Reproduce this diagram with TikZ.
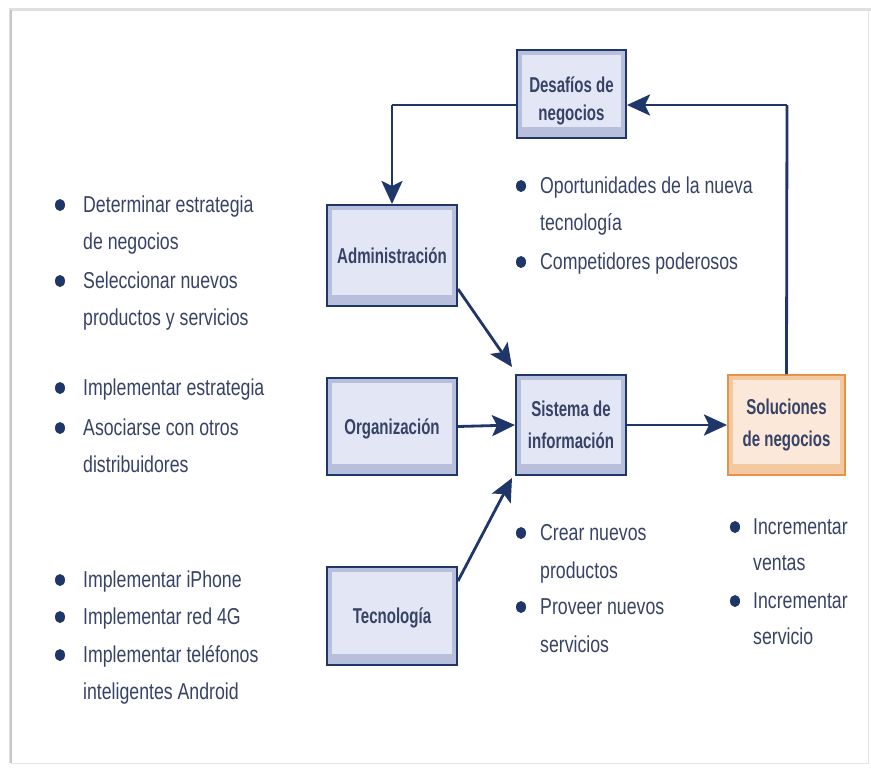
\documentclass[tikz,border=0pt]{standalone}
\usepackage{fontspec}
\usetikzlibrary{arrows.meta,calc}
\newfontfamily\listfont[FakeStretch=0.77]{Liberation Sans}
\newfontfamily\boxfont[FakeStretch=0.70]{Liberation Sans}
\definecolor{navy}{HTML}{1F3668}
\definecolor{txt}{HTML}{374366}
\definecolor{boxout}{HTML}{B8BFDD}
\definecolor{boxin}{HTML}{E3E6F5}
\definecolor{solout}{HTML}{F5C9A0}
\definecolor{solin}{HTML}{FBE8D8}
\definecolor{solline}{HTML}{E89148}
% lower a label without changing the size the node sees
\newcommand\lowerlabel[2]{\raisebox{-#1}[\height][\depth]{#2}}
\tikzset{
  x=1pt, y=-1pt,
  blockbox/.style={draw=navy, line width=2pt, fill=boxout, inner sep=0pt,
    align=center, text=txt, font=\boxfont\bfseries\fontsize{21.5}{32}\selectfont,
    path picture={\fill[boxin]
      ([shift={(5pt,-5pt)}]path picture bounding box.north west) rectangle
      ([shift={(-5pt,11pt)}]path picture bounding box.south east);}},
  solbox/.style={blockbox, draw=solline, fill=solout,
    path picture={\fill[solin]
      ([shift={(5pt,-5pt)}]path picture bounding box.north west) rectangle
      ([shift={(-5pt,11pt)}]path picture bounding box.south east);}},
  item/.style={anchor=mid west, inner sep=0pt, text=txt, yshift=-5pt,
    font=\listfont\fontsize{23}{30}\selectfont},
  dot/.style={fill=navy},
  arr/.style={draw=navy, line width=2.8pt,
    -{Stealth[length=23pt,width=21pt,inset=5pt]}},
  link/.style={draw=navy, line width=2.8pt}
}
\begin{document}
\begin{tikzpicture}
\useasboundingbox (0,0) rectangle (871,771);
% panel frame with soft shadow
\fill[white] (0,0) rectangle (871,771);
\draw[black!12, line width=3pt] (10,763) -- (10,9) -- (871,9);
\draw[black!22, line width=1.2pt] (11,763) -- (11,10);
\draw[black!10, line width=1pt] (11,763) -- (868,763) -- (868,10);

% blocks
\node[blockbox, minimum width=109pt, minimum height=88pt] (desafios) at (571.5,94)
  {\lowerlabel{7pt}{\renewcommand\arraystretch{0.88}%
   \begin{tabular}{@{}c@{}}Desafíos de\\negocios\end{tabular}}};
\node[blockbox, minimum width=130pt, minimum height=101pt] (admin) at (392,255.5) {Administración};
\node[blockbox, minimum width=130pt, minimum height=97pt] (org) at (392,426.5) {\lowerlabel{2pt}{Organización}};
\node[blockbox, minimum width=130pt, minimum height=98pt] (tec) at (392,616) {\lowerlabel{2pt}{Tecnología}};
\node[blockbox, minimum width=110pt, minimum height=100pt] (sis) at (571,425) {Sistema de\\información};
\node[solbox, minimum width=117pt, minimum height=100pt] (sol) at (786.5,425) {Soluciones\\de negocios};

% feedback loop
\coordinate (tr) at (787,105);
\coordinate (tl) at (392,105);
\draw[link] (sol.north) -- (tr);
\draw[arr] (tr) -- (desafios.east |- tr);
\draw[link] (desafios.west |- tl) -- (tl);
\draw[arr] (tl) -- (admin.north);

% inputs to the information system
\draw[arr] ([yshift=18pt]admin.south east) -- ([shift={(-3pt,7pt)}]sis.north west);
\draw[arr] (org.east) -- (sis.west);
\draw[arr] ([yshift=-15pt]tec.north east) -- ([shift={(-3pt,-2pt)}]sis.south west);
\draw[arr] (sis.east) -- (sol.west);

% management items
\fill[dot] (60,205) ellipse (5 and 6);
\node[item] (a1) at (83,205) {Determinar estrategia};
\node[item] (a2) at (83,242) {de negocios};
\fill[dot] (60,281) ellipse (5 and 6);
\node[item] (a3) at (83,281) {Seleccionar nuevos};
\node[item] (a4) at (83,318) {productos y servicios};

% organization items
\fill[dot] (60,388) ellipse (5 and 6);
\node[item] (o1) at (83,388) {Implementar estrategia};
\fill[dot] (60,428) ellipse (5 and 6);
\node[item] (o2) at (83,428) {Asociarse con otros};
\node[item] (o3) at (83,465) {distribuidores};

% technology items
\fill[dot] (60,580) ellipse (5 and 6);
\node[item] (t1) at (83,580) {Implementar iPhone};
\fill[dot] (60,617) ellipse (5 and 6);
\node[item] (t2) at (83,617) {Implementar red 4G};
\fill[dot] (60,655) ellipse (5 and 6);
\node[item] (t3) at (83,655) {Implementar teléfonos};
\node[item] (t4) at (83,692) {inteligentes Android};

% business challenges
\fill[dot] (521,186) ellipse (5 and 6);
\node[item] (d1) at (540,186) {Oportunidades de la nueva};
\node[item] (d2) at (540,223) {tecnología};
\fill[dot] (521,262) ellipse (5 and 6);
\node[item] (d3) at (540,262) {Competidores poderosos};

% information system results
\fill[dot] (521,533) ellipse (5 and 6);
\node[item] (s1) at (540,533) {Crear nuevos};
\node[item] (s2) at (540,571) {productos};
\fill[dot] (521,607) ellipse (5 and 6);
\node[item] (s3) at (540,607) {Proveer nuevos};
\node[item] (s4) at (540,645) {servicios};

% business solutions
\fill[dot] (735,527) ellipse (5 and 6);
\node[item] (r1) at (753,527) {Incrementar};
\node[item] (r2) at (753,563) {ventas};
\fill[dot] (735,601) ellipse (5 and 6);
\node[item] (r3) at (753,601) {Incrementar};
\node[item] (r4) at (753,637) {servicio};
\end{tikzpicture}
\end{document}
